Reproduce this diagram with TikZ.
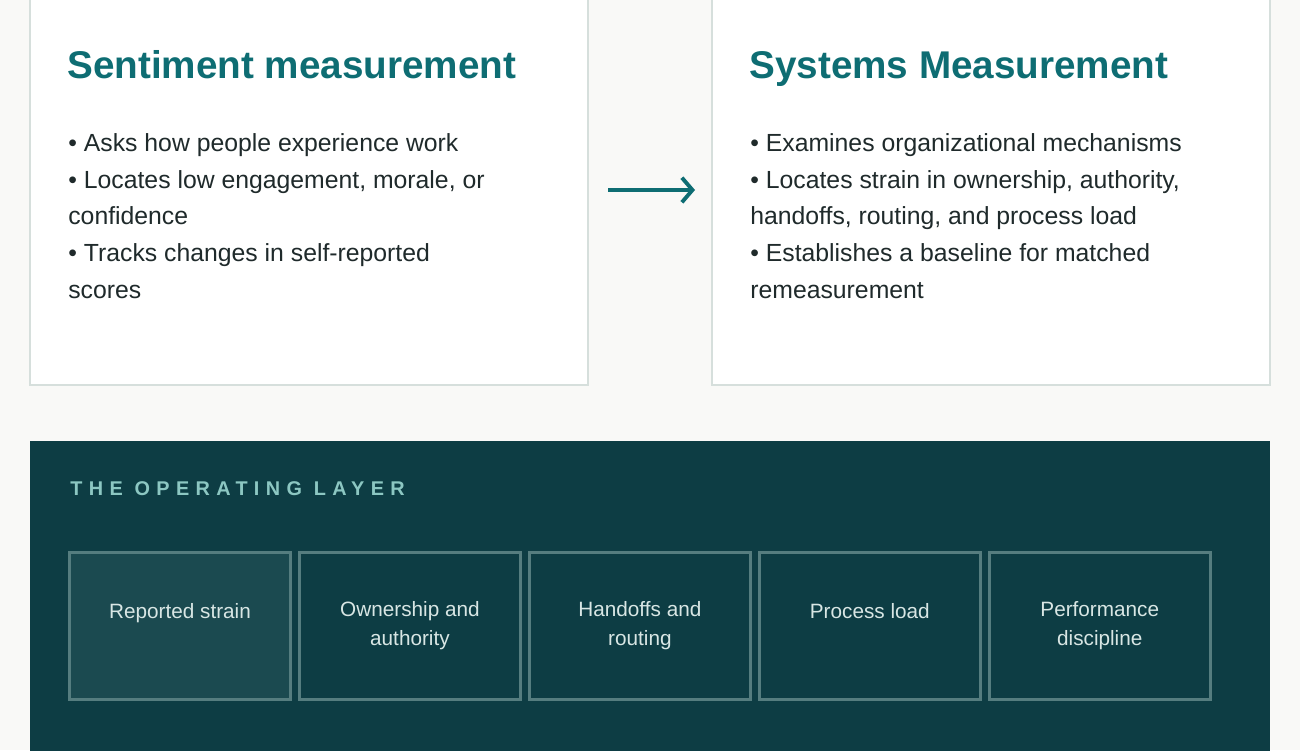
\documentclass[tikz,border=0pt]{standalone}
\usepackage{fontspec}
\setmainfont{Liberation Sans}
\usetikzlibrary{positioning,arrows.meta}
\definecolor{pagebg}{HTML}{F9F9F7}
\definecolor{cardline}{HTML}{D6DFDC}
\definecolor{tealhead}{HTML}{0E6D73}
\definecolor{bodyink}{HTML}{1F2A2B}
\definecolor{layerbg}{HTML}{0D3D44}
\definecolor{layerhi}{HTML}{1B4A50}
\definecolor{layerline}{HTML}{557D7F}
\definecolor{layerlabel}{HTML}{8CC7C2}
\definecolor{layerink}{HTML}{D8E6E4}
\tikzset{
  card/.style={draw=cardline, line width=1.2pt, fill=white},
  cardtitle/.style={anchor=base west, text=tealhead, font=\fontsize{22}{26}\selectfont\bfseries, inner sep=0pt},
  cardbody/.style={anchor=north west, text=bodyink, font=\fontsize{14.1}{20.9}\selectfont, align=left, inner sep=0pt},
  layerbox/.style={draw=layerline, line width=1.7pt, minimum width=4.42cm, minimum height=2.94cm, text=layerink, align=center, font=\fontsize{11.8}{16.6}\selectfont},
}
\begin{document}
\begin{tikzpicture}[x=0.02cm, y=-0.02cm]
  \fill[pagebg] (0,0) rectangle (1300,750);
  \useasboundingbox (0,0) rectangle (1300,750);
  % upper cards
  \draw[card] (30,-10) rectangle (588,385);
  \draw[card] (712,-10) rectangle (1270,385);
  \node[cardtitle] (senthead) at (67,78) {Sentiment measurement};
  \node[cardtitle] (syshead) at (749,78) {Systems Measurement};
  \node[cardbody] (sentbody) at (68,133) {• Asks how people experience work\\
    • Locates low engagement, morale, or\\confidence\\
    • Tracks changes in self-reported\\scores};
  \node[cardbody] (sysbody) at (750,133) {• Examines organizational mechanisms\\
    • Locates strain in ownership, authority,\\handoffs, routing, and process load\\
    • Establishes a baseline for matched\\remeasurement};
  \coordinate (arrowtail) at (608,190);
  \coordinate (arrowhead) at (695,190);
  \draw[tealhead, line width=2.2pt, -{Straight Barb[length=6pt,width=14pt]}] (arrowtail) -- (arrowhead);
  % operating layer
  \fill[layerbg] (30,441) rectangle (1270,760);
  \node[anchor=base west, inner sep=0pt, text=layerlabel, font=\fontsize{11.3}{13}\selectfont\bfseries\addfontfeature{LetterSpace=32}] (layertitle) at (70,495) {THE OPERATING LAYER};
  \node[layerbox, fill=layerhi] (strain) at (180,626) {Reported strain\\\mbox{}};
  \node[layerbox, right=0.12cm of strain] (owner) {Ownership and\\authority};
  \node[layerbox, right=0.12cm of owner] (handoff) {Handoffs and\\routing};
  \node[layerbox, right=0.12cm of handoff] (load) {Process load\\\mbox{}};
  \node[layerbox, right=0.12cm of load] (perform) {Performance\\discipline};
\end{tikzpicture}
\end{document}
